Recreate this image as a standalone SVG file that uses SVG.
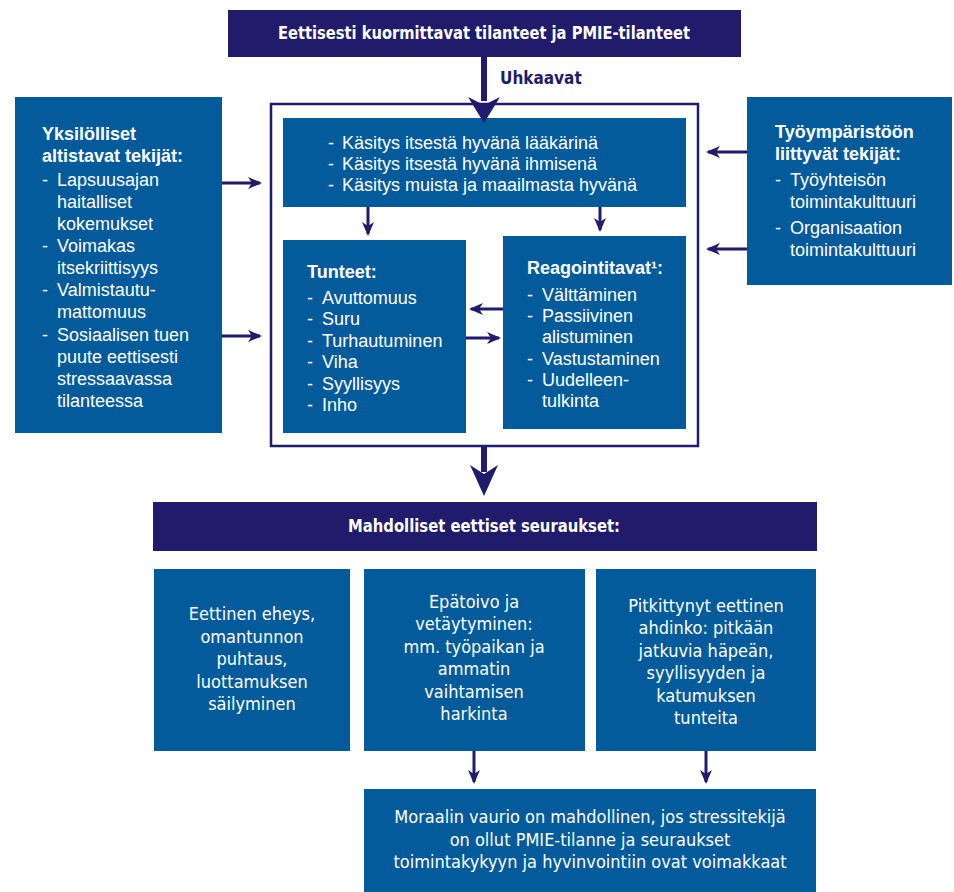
<svg xmlns="http://www.w3.org/2000/svg" width="954" height="892" viewBox="0 0 954 892">
<defs>
<style>
.box{fill:#045b9b}
.navy{fill:#211b6b}
.t{font-family:"Liberation Sans","DejaVu Sans",sans-serif;font-size:18px;fill:#ffffff}
.b{font-weight:bold}
.c{font-family:"Liberation Sans Narrow","DejaVu Sans Condensed","Liberation Sans",sans-serif;font-stretch:condensed;font-size:18px;fill:#ffffff;text-anchor:middle}
.con{stroke:#211b6b;stroke-width:3;fill:none}
.lbl{font-family:"Liberation Sans Narrow","DejaVu Sans Condensed","Liberation Sans",sans-serif;font-stretch:condensed;font-size:17px;font-weight:bold;fill:#211b6b}
</style>
<marker id="ah" markerUnits="userSpaceOnUse" markerWidth="14" markerHeight="14" viewBox="0 0 14 14" refX="12" refY="7" orient="auto">
<path d="M0,1 L14,7 L0,13 L4,7 Z" fill="#211b6b"/>
</marker>
</defs>
<rect width="954" height="892" fill="#ffffff"/>

<g id="header">
<rect class="navy" x="228" y="10" width="513" height="47"/>
<text class="c b" x="484" y="39" textLength="412" lengthAdjust="spacingAndGlyphs">Eettisesti kuormittavat tilanteet ja PMIE-tilanteet</text>
</g>

<g id="frame">
<rect x="271" y="104" width="427" height="342" fill="none" stroke="#211b6b" stroke-width="2.5"/>
</g>

<g id="kasitys">
<rect class="box" x="283" y="118" width="403" height="89"/>
<text class="t" x="328" y="149">-</text><text class="t" x="342" y="149">Käsitys itsestä hyvänä lääkärinä</text>
<text class="t" x="328" y="170">-</text><text class="t" x="342" y="170">Käsitys itsestä hyvänä ihmisenä</text>
<text class="t" x="328" y="191">-</text><text class="t" x="342" y="191">Käsitys muista ja maailmasta hyvänä</text>
</g>

<g id="tunteet">
<rect class="box" x="283" y="240" width="183" height="193"/>
<text class="t b" x="307" y="278">Tunteet:</text>
<text class="t" x="307" y="304">-</text><text class="t" x="322" y="304">Avuttomuus</text>
<text class="t" x="307" y="325">-</text><text class="t" x="322" y="325">Suru</text>
<text class="t" x="307" y="347">-</text><text class="t" x="322" y="347">Turhautuminen</text>
<text class="t" x="307" y="368">-</text><text class="t" x="322" y="368">Viha</text>
<text class="t" x="307" y="390">-</text><text class="t" x="322" y="390">Syyllisyys</text>
<text class="t" x="307" y="411">-</text><text class="t" x="322" y="411">Inho</text>
</g>

<g id="reagointi">
<rect class="box" x="503" y="236" width="183" height="193"/>
<text class="t b" x="527" y="274">Reagointitavat¹:</text>
<text class="t" x="527" y="301">-</text><text class="t" x="542" y="301">Välttäminen</text>
<text class="t" x="527" y="322">-</text><text class="t" x="542" y="322">Passiivinen</text>
<text class="t" x="542" y="343">alistuminen</text>
<text class="t" x="527" y="365">-</text><text class="t" x="542" y="365">Vastustaminen</text>
<text class="t" x="527" y="386">-</text><text class="t" x="542" y="386">Uudelleen-</text>
<text class="t" x="542" y="407">tulkinta</text>
</g>

<g id="yksilolliset">
<rect class="box" x="15" y="97" width="207" height="336"/>
<text class="t b" x="42" y="140">Yksilölliset</text>
<text class="t b" x="42" y="162">altistavat tekijät:</text>
<text class="t" x="42" y="186">-</text><text class="t" x="57" y="186">Lapsuusajan</text>
<text class="t" x="57" y="208">haitalliset</text>
<text class="t" x="57" y="230">kokemukset</text>
<text class="t" x="42" y="252">-</text><text class="t" x="57" y="252">Voimakas</text>
<text class="t" x="57" y="274">itsekriittisyys</text>
<text class="t" x="42" y="296">-</text><text class="t" x="57" y="296">Valmistautu-</text>
<text class="t" x="57" y="318">mattomuus</text>
<text class="t" x="42" y="341">-</text><text class="t" x="57" y="341">Sosiaalisen tuen</text>
<text class="t" x="57" y="363">puute eettisesti</text>
<text class="t" x="57" y="385">stressaavassa</text>
<text class="t" x="57" y="407">tilanteessa</text>
</g>

<g id="tyoymparisto">
<rect class="box" x="747" y="97" width="205" height="188"/>
<text class="t b" x="775" y="138">Työympäristöön</text>
<text class="t b" x="775" y="160">liittyvät tekijät:</text>
<text class="t" x="775" y="186">-</text><text class="t" x="790" y="186">Työyhteisön</text>
<text class="t" x="790" y="208">toimintakulttuuri</text>
<text class="t" x="775" y="234">-</text><text class="t" x="790" y="234">Organisaation</text>
<text class="t" x="790" y="256">toimintakulttuuri</text>
</g>

<g id="seuraukset">
<rect class="navy" x="153" y="502" width="664" height="49"/>
<text class="c b" x="484" y="532" textLength="272" lengthAdjust="spacingAndGlyphs">Mahdolliset eettiset seuraukset:</text>
</g>

<g id="eheys">
<rect class="box" x="154" y="569" width="196" height="182"/>
<text class="c" x="252" y="620">Eettinen eheys,</text>
<text class="c" x="252" y="643">omantunnon</text>
<text class="c" x="252" y="665">puhtaus,</text>
<text class="c" x="252" y="688">luottamuksen</text>
<text class="c" x="252" y="710">säilyminen</text>
</g>

<g id="epatoivo">
<rect class="box" x="364" y="569" width="221" height="182"/>
<text class="c" x="474" y="608">Epätoivo ja</text>
<text class="c" x="474" y="630">vetäytyminen:</text>
<text class="c" x="474" y="653">mm. työpaikan ja</text>
<text class="c" x="474" y="675">ammatin</text>
<text class="c" x="474" y="698">vaihtamisen</text>
<text class="c" x="474" y="720">harkinta</text>
</g>

<g id="ahdinko">
<rect class="box" x="596" y="569" width="220" height="182"/>
<text class="c" x="706" y="612">Pitkittynyt eettinen</text>
<text class="c" x="706" y="634">ahdinko: pitkään</text>
<text class="c" x="706" y="657">jatkuvia häpeän,</text>
<text class="c" x="706" y="679">syyllisyyden ja</text>
<text class="c" x="706" y="702">katumuksen</text>
<text class="c" x="706" y="724">tunteita</text>
</g>

<g id="moraali">
<rect class="box" x="364" y="789" width="452" height="103"/>
<text class="c" x="590" y="823">Moraalin vaurio on mahdollinen, jos stressitekijä</text>
<text class="c" x="590" y="846">on ollut PMIE-tilanne ja seuraukset</text>
<text class="c" x="590" y="868">toimintakykyyn ja hyvinvointiin ovat voimakkaat</text>
</g>

<g id="connectors">
<rect class="navy" x="481" y="57" width="6" height="44"/>
<path class="navy" d="M468,97 L484,105 L500,97 L484,123 Z"/>
<text class="lbl" x="500" y="84">Uhkaavat</text>
<rect class="navy" x="481" y="446" width="6" height="26"/>
<path class="navy" d="M470,465 L484,474 L498,465 L484,496 Z"/>
<line class="con" x1="368" y1="207" x2="368" y2="234" marker-end="url(#ah)"/>
<line class="con" x1="600" y1="207" x2="600" y2="230" marker-end="url(#ah)"/>
<line class="con" x1="503" y1="309" x2="471" y2="309" marker-end="url(#ah)"/>
<line class="con" x1="466" y1="338" x2="499" y2="338" marker-end="url(#ah)"/>
<line class="con" x1="222" y1="183" x2="260" y2="183" marker-end="url(#ah)"/>
<line class="con" x1="222" y1="336" x2="260" y2="336" marker-end="url(#ah)"/>
<line class="con" x1="747" y1="152" x2="708" y2="152" marker-end="url(#ah)"/>
<line class="con" x1="747" y1="249" x2="708" y2="249" marker-end="url(#ah)"/>
<line class="con" x1="474" y1="751" x2="474" y2="782" marker-end="url(#ah)"/>
<line class="con" x1="706" y1="751" x2="706" y2="782" marker-end="url(#ah)"/>
</g>
</svg>
